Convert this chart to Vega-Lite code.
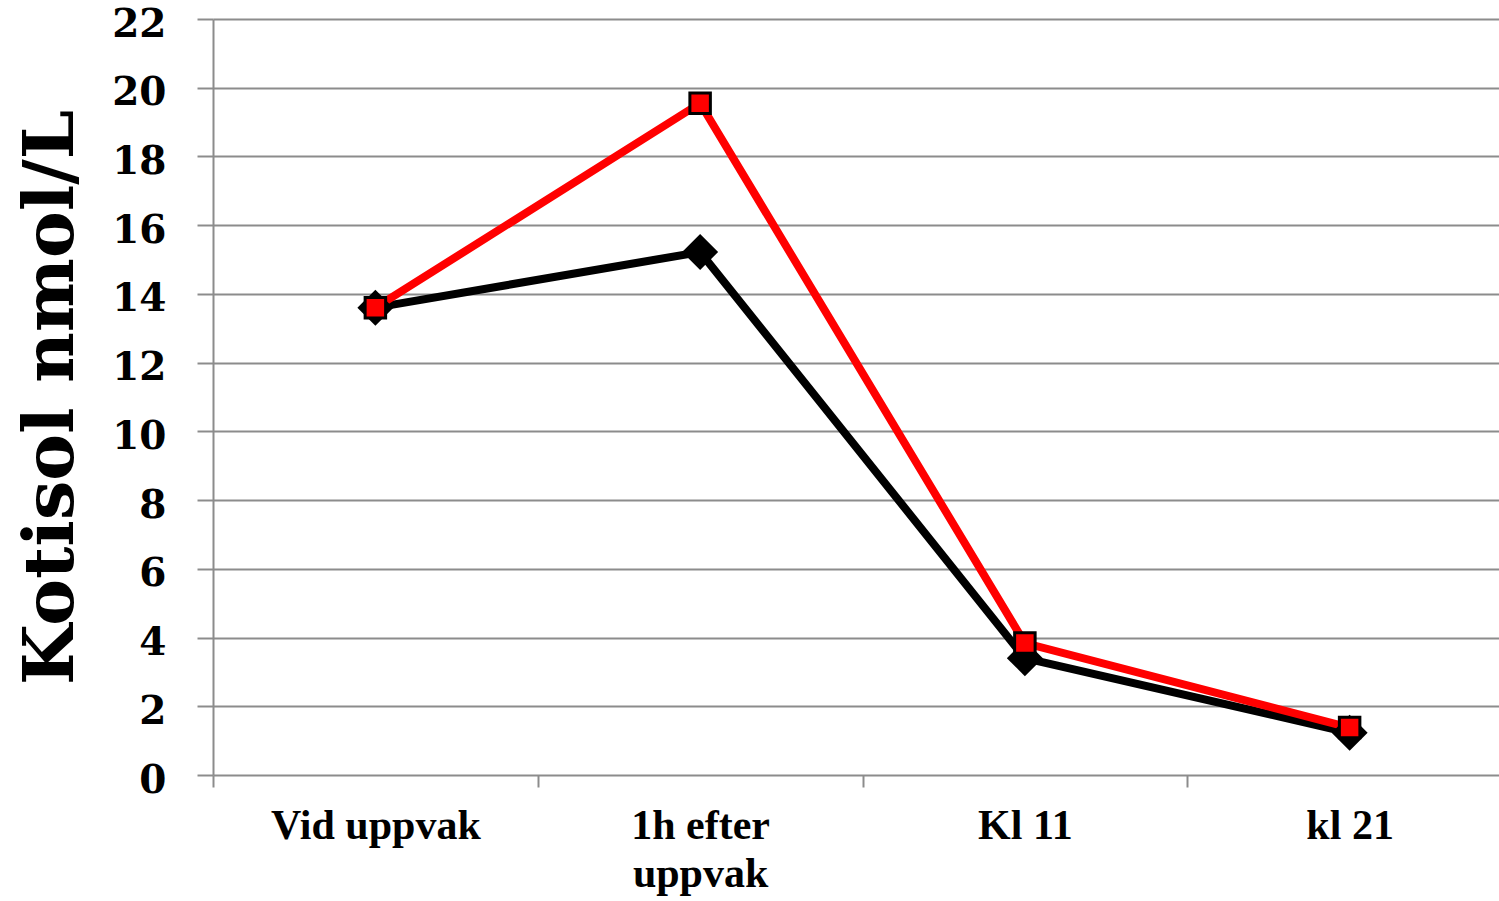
{
  "$schema": "https://vega.github.io/schema/vega-lite/v6.json",
  "width": 1299,
  "height": 756,
  "autosize": {"type": "none"},
  "padding": {"left": 213, "top": 19, "right": 0, "bottom": 126},
  "background": "white",
  "data": {
    "values": [
      {"tid": "Vid uppvak", "serie": "Serie 1", "kortisol": 13.6},
      {"tid": "1h efter uppvak", "serie": "Serie 1", "kortisol": 15.22},
      {"tid": "Kl 11", "serie": "Serie 1", "kortisol": 3.4},
      {"tid": "kl 21", "serie": "Serie 1", "kortisol": 1.23},
      {"tid": "Vid uppvak", "serie": "Serie 2", "kortisol": 13.6},
      {"tid": "1h efter uppvak", "serie": "Serie 2", "kortisol": 19.55},
      {"tid": "Kl 11", "serie": "Serie 2", "kortisol": 3.84},
      {"tid": "kl 21", "serie": "Serie 2", "kortisol": 1.38}
    ]
  },
  "config": {
    "view": {"stroke": null},
    "axis": {"labelColor": "black", "titleColor": "black"}
  },
  "encoding": {
    "x": {
      "field": "tid",
      "type": "nominal",
      "sort": ["Vid uppvak", "1h efter uppvak", "Kl 11", "kl 21"],
      "scale": {"type": "band", "paddingInner": 0, "paddingOuter": 0},
      "axis": {
        "title": null,
        "labelAngle": 0,
        "labelFont": "Liberation Serif",
        "labelFontWeight": "bold",
        "labelFontSize": 42,
        "labelLimit": 0,
        "labelPadding": 18,
        "labelBaseline": "top",
        "labelLineHeight": 48,
        "labelExpr": "datum.label == '1h efter uppvak' ? ['1h efter', 'uppvak'] : datum.label",
        "tickBand": "extent",
        "tickSize": 12,
        "tickColor": "#8c8c8c",
        "tickWidth": 2,
        "domain": false,
        "grid": false
      }
    },
    "y": {
      "field": "kortisol",
      "type": "quantitative",
      "scale": {"domain": [0, 22], "nice": false},
      "axis": {
        "title": "Kotisol nmol/L",
        "titleFont": "DejaVu Serif",
        "titleFontWeight": "bold",
        "titleFontSize": 70,
        "titleAngle": -90,
        "titleX": -141,
        "titleY": 378,
        "titleAlign": "center",
        "titleBaseline": "alphabetic",
        "values": [0, 2, 4, 6, 8, 10, 12, 14, 16, 18, 20, 22],
        "labelFont": "DejaVu Serif",
        "labelFontWeight": "bold",
        "labelFontSize": 39,
        "labelPadding": 31,
        "labelOffset": 5,
        "labelOverlap": false,
        "tickSize": 16,
        "tickColor": "#8c8c8c",
        "tickWidth": 2,
        "domainColor": "#8c8c8c",
        "domainWidth": 2,
        "grid": true,
        "gridColor": "#8c8c8c",
        "gridWidth": 2
      }
    }
  },
  "layer": [
    {
      "mark": {"type": "line", "strokeWidth": 8},
      "encoding": {
        "color": {
          "field": "serie",
          "type": "nominal",
          "scale": {"domain": ["Serie 1", "Serie 2"], "range": ["black", "#ff0000"]},
          "legend": null
        }
      }
    },
    {
      "transform": [{"filter": "datum.serie == 'Serie 1'"}],
      "mark": {"type": "point", "shape": "diamond", "size": 1300, "filled": true, "color": "black", "opacity": 1}
    },
    {
      "transform": [{"filter": "datum.serie == 'Serie 2'"}],
      "mark": {"type": "point", "shape": "square", "size": 420, "filled": true, "fill": "#ff0000", "stroke": "black", "strokeWidth": 3, "opacity": 1}
    }
  ]
}
